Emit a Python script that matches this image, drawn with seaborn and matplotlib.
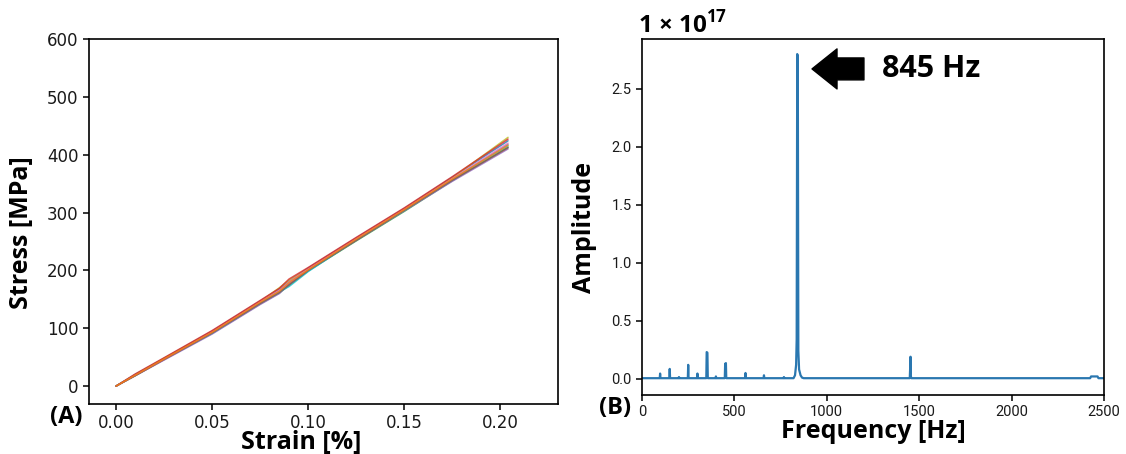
import pandas as pd
import seaborn as sns
import matplotlib.pyplot as plt

# (A) stress-strain curves, one per specimen
strain = [0.0, 0.01, 0.025, 0.05, 0.075, 0.085, 0.09, 0.10, 0.125, 0.15, 0.175, 0.204]
specimen_stress = {
    "S01": [0, 19, 47, 93, 145, 165, 178, 202, 254, 305, 358, 418],
    "S02": [0, 20, 48, 95, 147, 168, 181, 204, 256, 307, 361, 424],
    "S03": [0, 18, 46, 91, 142, 161, 174, 199, 251, 302, 355, 413],
    "S04": [0, 19, 48, 94, 146, 170, 183, 203, 255, 306, 360, 430],
    "S05": [0, 18, 45, 90, 141, 160, 176, 200, 252, 303, 354, 410],
    "S06": [0, 20, 47, 92, 144, 163, 172, 198, 253, 304, 357, 415],
    "S07": [0, 19, 46, 94, 146, 166, 180, 203, 255, 306, 359, 420],
    "S08": [0, 21, 49, 96, 148, 169, 185, 205, 257, 308, 362, 427],
    "S09": [0, 18, 46, 92, 143, 162, 175, 200, 252, 304, 356, 412],
    "S10": [0, 19, 47, 93, 145, 164, 179, 201, 254, 305, 358, 416],
}
specimen_colors = ["#7f7f7f", "#1f77b4", "#2ca02c", "#bcbd22", "#9467bd",
                   "#17becf", "#e377c2", "#d62728", "#8c564b", "#ff7f0e"]

# (B) amplitude spectrum, amplitude in units of 1e17
freq_hz = [0, 96, 98, 100, 148, 150, 152, 198, 200, 202, 248, 250, 252,
           298, 300, 302, 348, 350, 354, 356, 398, 400, 402, 448, 450, 454, 456,
           558, 560, 562, 658, 660, 662, 766, 768, 770,
           820, 828, 834, 837, 840, 843, 846, 850, 858, 866, 875,
           1449, 1451, 1453, 1455, 1458, 2425, 2430, 2465, 2470, 2500]
amplitude_e17 = [0.005, 0.005, 0.045, 0.005, 0.005, 0.085, 0.005, 0.005, 0.015, 0.005, 0.005, 0.12, 0.005,
                 0.005, 0.045, 0.005, 0.005, 0.23, 0.225, 0.005, 0.005, 0.02, 0.005, 0.005, 0.13, 0.135, 0.005,
                 0.005, 0.05, 0.005, 0.005, 0.03, 0.005, 0.005, 0.015, 0.005,
                 0.005, 0.03, 0.12, 0.34, 2.80, 2.78, 0.24, 0.08, 0.03, 0.01, 0.005,
                 0.005, 0.09, 0.19, 0.02, 0.005, 0.005, 0.02, 0.02, 0.005, 0.005]
peak_label = "845 Hz"

sns.set_theme(style="ticks")
plt.rcParams["font.family"] = ["Open Sans", "DejaVu Sans"]
plt.rcParams["mathtext.fontset"] = "custom"
plt.rcParams["mathtext.bf"] = "Open Sans:bold"
plt.rcParams["mathtext.rm"] = "Open Sans"
plt.rcParams["text.color"] = "black"
plt.rcParams["axes.labelcolor"] = "black"

W, H = 1126, 454
fig = plt.figure(figsize=(W / 100, H / 100), dpi=100)
ax_a = fig.add_axes([89 / W, 1 - 404 / H, 469 / W, 365 / H])
ax_b = fig.add_axes([642 / W, 1 - 395 / H, 462 / W, 356 / H])

# ---- (A) stress-strain
rows = []
for name, vals in specimen_stress.items():
    for e, s in zip(strain, vals):
        rows.append({"specimen": name, "strain": e, "stress": s})
df_a = pd.DataFrame(rows)
sns.lineplot(data=df_a, x="strain", y="stress", hue="specimen", palette=specimen_colors,
             estimator=None, linewidth=1.1, alpha=0.8, legend=False, ax=ax_a)
ax_a.set_xlim(-0.0141, 0.230)
ax_a.set_ylim(-31, 600)
ax_a.set_xticks([0.0, 0.05, 0.10, 0.15, 0.20])
ax_a.set_xticklabels(["0.00", "0.05", "0.10", "0.15", "0.20"])
ax_a.set_yticks(range(0, 601, 100))
for lab in ax_a.get_xticklabels() + ax_a.get_yticklabels():
    lab.set_fontfamily("DejaVu Sans")
    lab.set_fontsize(12)
    lab.set_color("#1a1a1a")
ax_a.set_xlabel("Strain [%]", fontsize=18, fontweight="bold")
ax_a.set_ylabel("Stress [MPa]", fontsize=18, fontweight="bold")
ax_a.xaxis.set_label_coords(0.452, -0.072)
ax_a.yaxis.set_label_coords(-0.117, 0.47)

# ---- (B) spectrum
df_b = pd.DataFrame({"freq": freq_hz, "amp": amplitude_e17})
sns.lineplot(data=df_b, x="freq", y="amp", color="#2a77b0", linewidth=1.6, ax=ax_b)
ax_b.set_xlim(0, 2500)
ax_b.set_ylim(-0.14, 2.93)
ax_b.set_xticks(range(0, 2501, 500))
ax_b.set_yticks([0.0, 0.5, 1.0, 1.5, 2.0, 2.5])
ax_b.set_yticklabels(["0.0", "0.5", "1.0", "1.5", "2.0", "2.5"])
for lab in ax_b.get_xticklabels() + ax_b.get_yticklabels():
    lab.set_fontfamily("Roboto")
    lab.set_fontsize(10.5)
    lab.set_color("#1a1a1a")
ax_b.set_xlabel("Frequency [Hz]", fontsize=18, fontweight="bold")
ax_b.set_ylabel("Amplitude", fontsize=18, fontweight="bold")
ax_b.xaxis.set_label_coords(0.5, -0.067)
ax_b.yaxis.set_label_coords(-0.098, 0.47)

ax_b.annotate("", xy=(920, 2.672), xytext=(1201, 2.672),
              arrowprops=dict(arrowstyle="simple,head_length=1.8,head_width=2.88,tail_width=1.58",
                              mutation_scale=10, fc="black", ec="black", shrinkA=0, shrinkB=0))
ax_b.text(1299, 2.672, peak_label, ha="left", va="center", fontsize=22, fontweight="bold")

for ax in (ax_a, ax_b):
    for sp in ax.spines.values():
        sp.set_color("black")
        sp.set_linewidth(1.2)
    ax.tick_params(length=4, width=1.1, color="black")

fig.text(638 / W, 1 - 33 / H, r"1 × 10$^{\mathbf{17}}$", ha="left", va="baseline",
         fontsize=17.5, fontweight="bold")
fig.text(66 / W, 1 - 417 / H, "(A)", ha="center", va="center", fontsize=17, fontweight="bold")
fig.text(615 / W, 1 - 408 / H, "(B)", ha="center", va="center", fontsize=17, fontweight="bold")

fig.savefig("out.png", dpi=100)
